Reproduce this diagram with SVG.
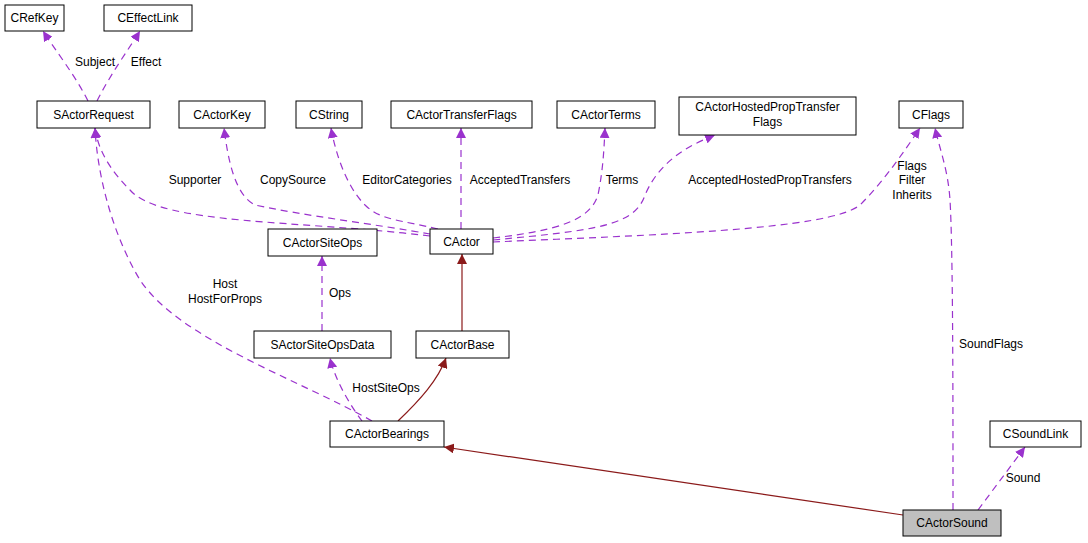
<svg xmlns="http://www.w3.org/2000/svg" width="1088" height="543" viewBox="0 0 1088 543">
<style>
.n rect{fill:#fff;stroke:#000;stroke-width:1}
text{font-family:"Liberation Sans",Arial,sans-serif;font-size:12px;fill:#000}
.t{text-anchor:middle}
.u{fill:none;stroke:#9a32cd;stroke-dasharray:7,5;stroke-width:1.2}
.i{fill:none;stroke:#8b1a1a;stroke-width:1.2}
</style>
<defs>
<marker id="ap" viewBox="0 0 10 10" refX="10" refY="5" markerWidth="10" markerHeight="10" markerUnits="userSpaceOnUse" orient="auto"><path d="M0,0L10,5L0,10z" fill="#9a32cd"/></marker>
<marker id="ar" viewBox="0 0 10 10" refX="10" refY="5" markerWidth="10" markerHeight="10" markerUnits="userSpaceOnUse" orient="auto"><path d="M0,0L10,5L0,10z" fill="#8b1a1a"/></marker>
</defs>
<rect width="1088" height="543" fill="#fff"/>
<g id="connectors">
<path class="u" marker-end="url(#ap)" d="M88,101C75,75 55,50 43,31"/>
<path class="u" marker-end="url(#ap)" d="M97,101C110,75 128,50 140,31"/>
<path class="u" marker-end="url(#ap)" d="M430,236C300,220 160,225 130,190C110,170 98,150 95,128"/>
<path class="u" marker-end="url(#ap)" d="M430,234C380,225 300,215 255,205C235,195 228,160 224,128"/>
<path class="u" marker-end="url(#ap)" d="M438,229C400,220 380,220 365,205C345,185 335,150 331,128"/>
<path class="u" marker-end="url(#ap)" d="M461,229L461,128"/>
<path class="u" marker-end="url(#ap)" d="M493,238C560,230 590,220 598,195C603,170 604,150 605,128"/>
<path class="u" marker-end="url(#ap)" d="M493,240C600,230 635,225 645,195C660,160 690,145 715,135"/>
<path class="u" marker-end="url(#ap)" d="M493,242C650,235 830,230 860,205C885,180 905,150 920,128"/>
<path class="u" marker-end="url(#ap)" d="M372,421C300,380 180,340 140,280C110,230 97,170 95,128"/>
<path class="u" marker-end="url(#ap)" d="M322,331L322,256"/>
<path class="u" marker-end="url(#ap)" d="M362,421C350,405 335,380 330,358"/>
<path class="i" marker-end="url(#ar)" d="M462,331L462,254"/>
<path class="i" marker-end="url(#ar)" d="M398,421C420,400 438,380 446,358"/>
<path class="i" marker-end="url(#ar)" d="M903,515L444,447"/>
<path class="u" marker-end="url(#ap)" d="M978,510L1025,447"/>
<path class="u" marker-end="url(#ap)" d="M953,510C953,400 953,250 950,200C948,170 940,150 935,128"/>
</g>
<g id="labels">
<text x="95" y="66" class="t">Subject</text>
<text x="146" y="66" class="t">Effect</text>
<text x="195" y="184" class="t">Supporter</text>
<text x="293" y="184" class="t">CopySource</text>
<text x="407" y="184" class="t">EditorCategories</text>
<text x="520" y="184" class="t">AcceptedTransfers</text>
<text x="622" y="184" class="t">Terms</text>
<text x="770" y="184" class="t">AcceptedHostedPropTransfers</text>
<text x="912" y="170" class="t">Flags</text>
<text x="912" y="184" class="t">Filter</text>
<text x="912" y="199" class="t">Inherits</text>
<text x="225" y="288" class="t">Host</text>
<text x="225" y="303" class="t">HostForProps</text>
<text x="340" y="297" class="t">Ops</text>
<text x="386" y="392" class="t">HostSiteOps</text>
<text x="991" y="348" class="t">SoundFlags</text>
<text x="1023" y="482" class="t">Sound</text>
</g>
<g id="CRefKey" class="n"><rect x="5" y="5" width="59" height="26"/><text x="34.5" y="22" class="t">CRefKey</text></g>
<g id="CEffectLink" class="n"><rect x="104" y="5" width="88" height="26"/><text x="148" y="22" class="t">CEffectLink</text></g>
<g id="SActorRequest" class="n"><rect x="37" y="101" width="113" height="27"/><text x="93.5" y="119" class="t">SActorRequest</text></g>
<g id="CActorKey" class="n"><rect x="179" y="101" width="86" height="27"/><text x="222" y="119" class="t">CActorKey</text></g>
<g id="CString" class="n"><rect x="296" y="101" width="66" height="27"/><text x="329" y="119" class="t">CString</text></g>
<g id="CActorTransferFlags" class="n"><rect x="391" y="101" width="141" height="27"/><text x="461.5" y="119" class="t">CActorTransferFlags</text></g>
<g id="CActorTerms" class="n"><rect x="557" y="101" width="98" height="27"/><text x="606" y="119" class="t">CActorTerms</text></g>
<g id="CActorHostedPropTransferFlags" class="n"><rect x="679" y="97" width="177" height="38"/><text x="767.5" y="111" class="t">CActorHostedPropTransfer</text><text x="767.5" y="126" class="t">Flags</text></g>
<g id="CFlags" class="n"><rect x="899" y="101" width="64" height="27"/><text x="931" y="119" class="t">CFlags</text></g>
<g id="CActorSiteOps" class="n"><rect x="268" y="229" width="109" height="27"/><text x="322.5" y="247" class="t">CActorSiteOps</text></g>
<g id="CActor" class="n"><rect x="430" y="229" width="63" height="25"/><text x="461.5" y="246" class="t">CActor</text></g>
<g id="SActorSiteOpsData" class="n"><rect x="254" y="331" width="137" height="27"/><text x="322.5" y="349" class="t">SActorSiteOpsData</text></g>
<g id="CActorBase" class="n"><rect x="416" y="331" width="93" height="27"/><text x="462.5" y="349" class="t">CActorBase</text></g>
<g id="CActorBearings" class="n"><rect x="330" y="421" width="114" height="26"/><text x="387" y="438" class="t">CActorBearings</text></g>
<g id="CSoundLink" class="n"><rect x="990" y="421" width="91" height="26"/><text x="1035.5" y="438" class="t">CSoundLink</text></g>
<g id="CActorSound" class="n"><rect x="903" y="510" width="98" height="26" style="fill:#bfbfbf"/><text x="952" y="527" class="t">CActorSound</text></g>
</svg>
